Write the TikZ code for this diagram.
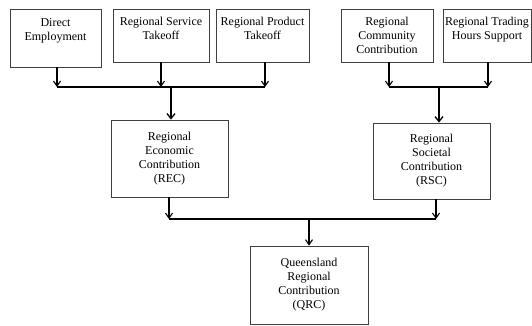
\documentclass[tikz,border=0pt]{standalone}
\usepackage{fontspec}
\setmainfont{Liberation Serif}
\usetikzlibrary{arrows.meta}
\begin{document}
\begin{tikzpicture}[x=1pt,y=-1pt,
  box/.style={draw=black!75,line width=0.8pt,align=center,inner sep=1pt,font=\fontsize{12}{14}\selectfont,anchor=center},
  thin arrow/.style={line width=1.1pt,-{Straight Barb[length=5pt,width=7pt,line width=1.1pt]}},
  thick arrow/.style={line width=2pt,-{Straight Barb[length=5pt,width=8pt,line width=1.3pt]}},
  bus/.style={line width=1.8pt}]
\useasboundingbox (0,0) rectangle (532,325);
\node[box,minimum width=91pt,minimum height=58pt] (b1) at (55.5,38) {Direct\\Employment\\[3pt]\mbox{}};
\node[box,minimum width=96pt,minimum height=53pt] (b2) at (161,35.5) {Regional Service\\Takeoff\\\mbox{}};
\node[box,minimum width=93pt,minimum height=53pt] (b3) at (262.5,35.5) {Regional Product\\Takeoff\\\mbox{}};
\node[box,minimum width=92pt,minimum height=53pt] (b4) at (387,35.5) {Regional\\Community\\Contribution};
\node[box,minimum width=88pt,minimum height=53pt] (b5) at (487,35.5) {Regional Trading\\Hours Support\\\mbox{}};
\node[box,minimum width=117pt,minimum height=77pt] (rec) at (169.5,158.5) {Regional\\Economic\\Contribution\\(REC)};
\node[box,minimum width=117pt,minimum height=76pt] (rsc) at (431.5,161) {Regional\\Societal\\Contribution\\(RSC)};
\node[box,minimum width=118pt,minimum height=78pt] (qrc) at (309,285) {Queensland\\Regional\\Contribution\\(QRC)};
% bus 1
\coordinate (l1) at (57,87);
\coordinate (l2) at (161,87);
\coordinate (l3) at (265,87);
\coordinate (l0) at (171,87);
\draw[bus] (l1) -- (l3);
\draw[thin arrow] (b1.south -| l1) -- (l1);
\draw[thin arrow] (b2.south -| l2) -- (l2);
\draw[thin arrow] (b3.south -| l3) -- (l3);
\draw[thick arrow] (l0) -- (l0 |- rec.north);
% bus 2
\coordinate (r1) at (389,87);
\coordinate (r2) at (488,87);
\coordinate (r0) at (439,87);
\draw[bus] (r1) -- (r2);
\draw[thin arrow] (b4.south -| r1) -- (r1);
\draw[thin arrow] (b5.south -| r2) -- (r2);
\draw[thick arrow] (r0) -- (r0 |- rsc.north);
% bus 3
\coordinate (m1) at (169,219);
\coordinate (m2) at (436,219);
\coordinate (m0) at (309,219);
\draw[bus] (m1) -- (m2);
\draw[thin arrow] (rec.south -| m1) -- (m1);
\draw[thin arrow] (rsc.south -| m2) -- (m2);
\draw[thin arrow] (m0) -- (qrc.north);
\end{tikzpicture}
\end{document}
